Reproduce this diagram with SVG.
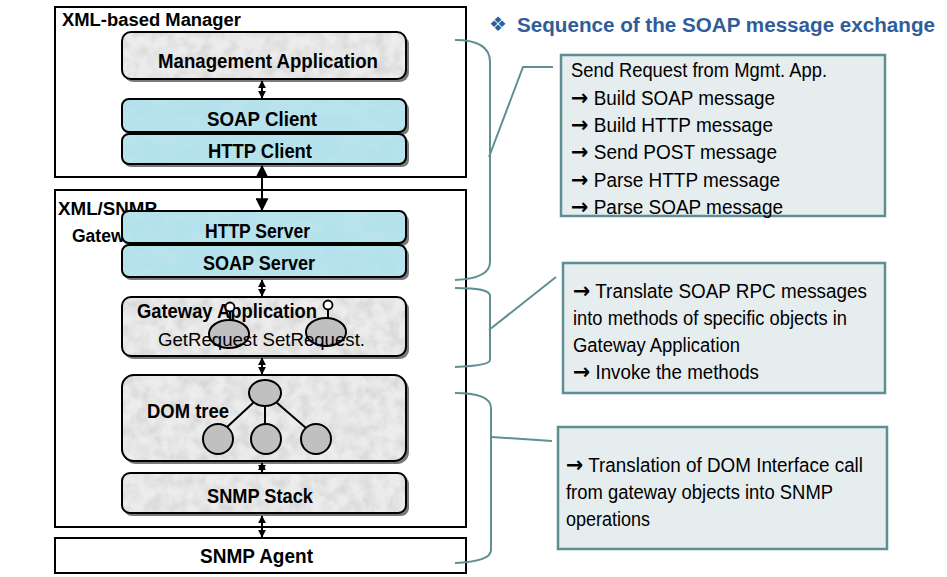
<svg xmlns="http://www.w3.org/2000/svg" width="947" height="577" viewBox="0 0 947 577">
  <defs>
    <filter id="grain" x="0" y="0" width="100%" height="100%">
      <feTurbulence type="fractalNoise" baseFrequency="0.08" numOctaves="3" seed="7" result="n"/>
      <feColorMatrix in="n" type="matrix" values="0 0 0 0 0.5  0 0 0 0 0.5  0 0 0 0 0.5  0 0 0 0.9 -0.3" result="g"/>
      <feComposite in="g" in2="SourceGraphic" operator="in" result="gc"/>
      <feMerge><feMergeNode in="SourceGraphic"/><feMergeNode in="gc"/></feMerge>
    </filter>
    <filter id="water" x="0" y="0" width="100%" height="100%">
      <feTurbulence type="fractalNoise" baseFrequency="0.035 0.06" numOctaves="2" seed="3" result="n"/>
      <feColorMatrix in="n" type="matrix" values="0 0 0 0 0.55  0 0 0 0 0.78  0 0 0 0 0.84  0 0 0 1.2 -0.45" result="g"/>
      <feComposite in="g" in2="SourceGraphic" operator="in" result="gc"/>
      <feMerge><feMergeNode in="SourceGraphic"/><feMergeNode in="gc"/></feMerge>
    </filter>
    <marker id="hs" viewBox="0 0 10 10" refX="9" refY="5" markerWidth="8" markerHeight="8" markerUnits="userSpaceOnUse" orient="auto-start-reverse">
      <path d="M0,0 L10,5 L0,10 z" fill="#000"/>
    </marker>
    <marker id="hl" viewBox="0 0 10 10" refX="9" refY="5" markerWidth="13" markerHeight="13" markerUnits="userSpaceOnUse" orient="auto-start-reverse">
      <path d="M0,0 L10,5 L0,10 z" fill="#000"/>
    </marker>
  </defs>
  <style>
    .lbl { font-family: "Liberation Sans Narrow", "Liberation Sans", Arial, sans-serif; fill: #000; }
    .b { font-weight: bold; }
    .ar { font-family: "DejaVu Sans", sans-serif; font-weight: bold; font-size: 22px; }
    .frame { fill: #fff; stroke: #000; stroke-width: 2; }
    .shadow { fill: #7a7a7a; }
    .gray { fill: #ececec; filter: url(#grain); }
    .blue { fill: #b3e2ec; filter: url(#water); }
    .edge { fill: none; stroke: #000; stroke-width: 2; }
    .note { fill: #e6edef; stroke: #5f8f93; stroke-width: 2.5; }
    .brace { fill: none; stroke: #5f8f93; stroke-width: 2; }
    .link { stroke: #000; stroke-width: 2; fill: none; }
    .oval { fill: #c0c0c0; stroke: #000; stroke-width: 2; }
    .title { font-family: "Liberation Sans Narrow", "Liberation Sans", Arial, sans-serif; font-weight: bold; fill: #2f5d9a; }
  </style>

  <rect width="947" height="577" fill="#fff"/>

  <!-- outer frames -->
  <g id="xml-manager">
    <rect class="frame" x="55" y="7" width="411" height="170"/>
    <text class="lbl b" x="62" y="26" font-size="18" textLength="179" lengthAdjust="spacingAndGlyphs">XML-based Manager</text>
  </g>
  <g id="xml-snmp-gateway">
    <rect class="frame" x="55" y="190" width="411" height="337"/>
    <text class="lbl b" x="58" y="215" font-size="18" textLength="99" lengthAdjust="spacingAndGlyphs">XML/SNMP</text>
    <text class="lbl b" x="72" y="242" font-size="18" textLength="72" lengthAdjust="spacingAndGlyphs">Gateway</text>
  </g>
  <g id="snmp-agent">
    <rect class="frame" x="55" y="538" width="411" height="35"/>
    <text class="lbl b" x="200" y="563" font-size="20" textLength="113" lengthAdjust="spacingAndGlyphs">SNMP Agent</text>
  </g>

  <!-- layered components -->
  <g id="management-application">
    <rect class="shadow" x="124" y="35" width="285" height="47" rx="9"/>
    <rect class="gray" x="122" y="32" width="284" height="47" rx="9"/>
    <rect class="edge" x="122" y="32" width="284" height="47" rx="9"/>
    <text class="lbl b" x="158" y="68" font-size="21" textLength="220" lengthAdjust="spacingAndGlyphs">Management Application</text>
  </g>
  <g id="soap-client">
    <rect class="shadow" x="124" y="102" width="285" height="33" rx="7"/>
    <rect class="blue" x="122" y="99" width="284" height="33" rx="7"/>
    <rect class="edge" x="122" y="99" width="284" height="33" rx="7"/>
    <text class="lbl b" x="207" y="126" font-size="21" textLength="110" lengthAdjust="spacingAndGlyphs">SOAP Client</text>
  </g>
  <g id="http-client">
    <rect class="shadow" x="124" y="137" width="285" height="30" rx="7"/>
    <rect class="blue" x="122" y="134" width="284" height="30" rx="7"/>
    <rect class="edge" x="122" y="134" width="284" height="30" rx="7"/>
    <text class="lbl b" x="208" y="158" font-size="21" textLength="104" lengthAdjust="spacingAndGlyphs">HTTP Client</text>
  </g>
  <g id="http-server">
    <rect class="shadow" x="124" y="214" width="285" height="32" rx="7"/>
    <rect class="blue" x="122" y="211" width="284" height="32" rx="7"/>
    <rect class="edge" x="122" y="211" width="284" height="32" rx="7"/>
    <text class="lbl b" x="205" y="238" font-size="21" textLength="105" lengthAdjust="spacingAndGlyphs">HTTP Server</text>
  </g>
  <g id="soap-server">
    <rect class="shadow" x="124" y="248" width="285" height="32" rx="7"/>
    <rect class="blue" x="122" y="245" width="284" height="32" rx="7"/>
    <rect class="edge" x="122" y="245" width="284" height="32" rx="7"/>
    <text class="lbl b" x="203" y="270" font-size="21" textLength="112" lengthAdjust="spacingAndGlyphs">SOAP Server</text>
  </g>
  <g id="gateway-application">
    <rect class="shadow" x="124" y="300" width="285" height="59" rx="9"/>
    <rect class="gray" x="122" y="297" width="284" height="59" rx="9"/>
    <rect class="edge" x="122" y="297" width="284" height="59" rx="9"/>
    <text class="lbl b" x="137" y="318" font-size="20" textLength="180" lengthAdjust="spacingAndGlyphs">Gateway Application</text>
    <!-- request objects with interface lollipops -->
    <line class="link" x1="230" y1="311" x2="230" y2="321"/>
    <circle cx="230" cy="307" r="4.5" fill="#fff" stroke="#000" stroke-width="1.8"/>
    <ellipse class="oval" cx="229" cy="334" rx="20" ry="14"/>
    <line class="link" x1="328" y1="309" x2="328" y2="319"/>
    <circle cx="328" cy="305" r="4.5" fill="#fff" stroke="#000" stroke-width="1.8"/>
    <ellipse class="oval" cx="326" cy="332" rx="20" ry="14"/>
    <text class="lbl" x="158" y="346" font-size="19" fill="#222" textLength="207" lengthAdjust="spacingAndGlyphs">GetRequest  SetRequest.</text>
  </g>
  <g id="dom-tree">
    <rect class="shadow" x="124" y="378" width="285" height="86" rx="12"/>
    <rect class="gray" x="122" y="375" width="284" height="86" rx="12"/>
    <rect class="edge" x="122" y="375" width="284" height="86" rx="12"/>
    <text class="lbl b" x="147" y="418" font-size="20" textLength="82" lengthAdjust="spacingAndGlyphs">DOM tree</text>
    <line class="link" x1="254" y1="402" x2="226" y2="428"/>
    <line class="link" x1="265" y1="406" x2="265" y2="425"/>
    <line class="link" x1="276" y1="402" x2="306" y2="428"/>
    <ellipse class="oval" cx="265" cy="393" rx="16" ry="13"/>
    <ellipse class="oval" cx="218" cy="439" rx="15" ry="15"/>
    <ellipse class="oval" cx="266" cy="439" rx="15" ry="15"/>
    <ellipse class="oval" cx="316" cy="439" rx="15" ry="15"/>
  </g>
  <g id="snmp-stack">
    <rect class="shadow" x="124" y="476" width="285" height="40" rx="8"/>
    <rect class="gray" x="122" y="473" width="284" height="40" rx="8"/>
    <rect class="edge" x="122" y="473" width="284" height="40" rx="8"/>
    <text class="lbl b" x="207" y="503" font-size="21" textLength="106" lengthAdjust="spacingAndGlyphs">SNMP Stack</text>
  </g>

  <!-- connectors between the layers -->
  <g id="connectors">
    <line class="link" x1="262" y1="81" x2="262" y2="98" marker-start="url(#hs)" marker-end="url(#hs)"/>
    <line class="link" x1="262" y1="166" x2="262" y2="210" marker-start="url(#hl)" marker-end="url(#hl)"/>
    <line class="link" x1="262" y1="280" x2="262" y2="296" marker-start="url(#hs)" marker-end="url(#hs)"/>
    <line class="link" x1="262" y1="358" x2="262" y2="374" marker-start="url(#hs)" marker-end="url(#hs)"/>
    <line class="link" x1="262" y1="463" x2="262" y2="472" marker-start="url(#hs)" marker-end="url(#hs)"/>
    <line class="link" x1="262" y1="516" x2="262" y2="537" marker-start="url(#hs)" marker-end="url(#hs)"/>

    <!-- brackets grouping the layers, with leader lines to the notes -->
    <path class="brace" d="M455,40 C478,40 490,47 490,62 L490,262 C490,273 478,279 455,280"/>
    <polyline class="brace" points="489,157 523,67 553,67"/>
    <path class="brace" d="M455,288 C478,288 490,290 490,296 L490,360 C490,364 478,366 455,367"/>
    <line class="brace" x1="489" y1="330" x2="556" y2="277"/>
    <path class="brace" d="M455,393 C478,393 491,398 491,408 L491,550 C491,558 478,562 455,563"/>
    <line class="brace" x1="491" y1="437" x2="552" y2="441"/>
  </g>

  <!-- heading -->
  <g id="heading">
    <text x="489" y="31" font-size="20" fill="#2f5d9a" font-family="DejaVu Sans, sans-serif">❖</text>
    <text class="title" x="517" y="32" font-size="20" textLength="418" lengthAdjust="spacingAndGlyphs">Sequence of the SOAP message exchange</text>
  </g>

  <!-- notes -->
  <g id="note-soap-sequence">
    <rect class="note" x="561" y="55" width="324" height="161"/>
    <text class="lbl" x="571" y="77" font-size="20" textLength="256" lengthAdjust="spacingAndGlyphs">Send Request from Mgmt. App.</text>
    <text class="lbl" x="571" y="105" font-size="20" textLength="204" lengthAdjust="spacingAndGlyphs"><tspan class="ar">→</tspan> Build SOAP message</text>
    <text class="lbl" x="571" y="132" font-size="20" textLength="202" lengthAdjust="spacingAndGlyphs"><tspan class="ar">→</tspan> Build HTTP message</text>
    <text class="lbl" x="571" y="159" font-size="20" textLength="206" lengthAdjust="spacingAndGlyphs"><tspan class="ar">→</tspan> Send POST message</text>
    <text class="lbl" x="571" y="187" font-size="20" textLength="209" lengthAdjust="spacingAndGlyphs"><tspan class="ar">→</tspan> Parse HTTP message</text>
    <text class="lbl" x="571" y="214" font-size="20" textLength="212" lengthAdjust="spacingAndGlyphs"><tspan class="ar">→</tspan> Parse SOAP message</text>
  </g>
  <g id="note-gateway-translation">
    <rect class="note" x="563" y="263" width="322" height="130"/>
    <text class="lbl" x="573" y="298" font-size="20" textLength="294" lengthAdjust="spacingAndGlyphs"><tspan class="ar">→</tspan> Translate SOAP RPC messages</text>
    <text class="lbl" x="573" y="325" font-size="20" textLength="274" lengthAdjust="spacingAndGlyphs">into methods of specific objects in</text>
    <text class="lbl" x="573" y="352" font-size="20" textLength="167" lengthAdjust="spacingAndGlyphs">Gateway Application</text>
    <text class="lbl" x="573" y="379" font-size="20" textLength="186" lengthAdjust="spacingAndGlyphs"><tspan class="ar">→</tspan> Invoke the methods</text>
  </g>
  <g id="note-dom-translation">
    <rect class="note" x="558" y="427" width="329" height="122"/>
    <text class="lbl" x="566" y="472" font-size="20" textLength="297" lengthAdjust="spacingAndGlyphs"><tspan class="ar">→</tspan> Translation of DOM Interface call</text>
    <text class="lbl" x="566" y="499" font-size="20" textLength="267" lengthAdjust="spacingAndGlyphs">from gateway objects into SNMP</text>
    <text class="lbl" x="566" y="526" font-size="20" textLength="84" lengthAdjust="spacingAndGlyphs">operations</text>
  </g>
</svg>
